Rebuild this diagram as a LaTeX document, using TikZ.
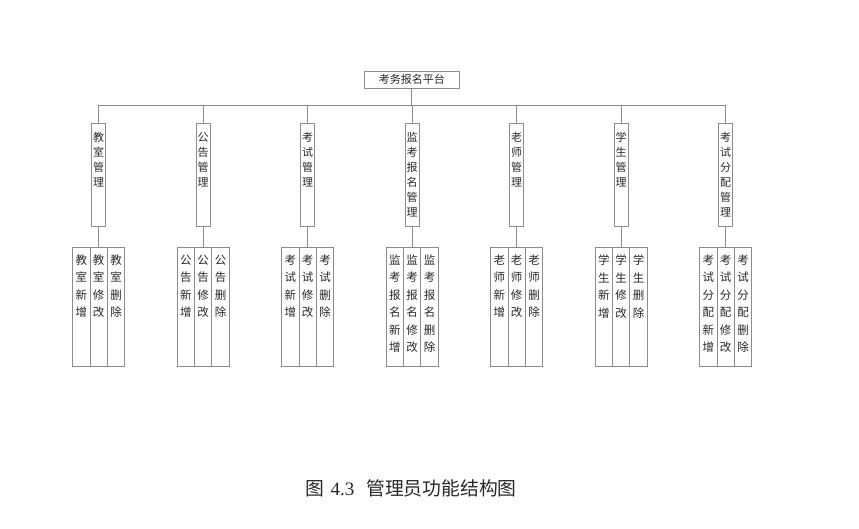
\documentclass[tikz,border=0pt]{standalone}
\usepackage{fontspec}
\setmainfont{Noto Sans CJK SC}
\newfontfamily\capserif{Liberation Serif}
\definecolor{linegray}{RGB}{140,140,140}
\definecolor{txt}{RGB}{40,40,40}
\begin{document}
\begin{tikzpicture}[x=1pt,y=-1pt,
  conn/.style={draw=linegray,line width=0.8pt},
  boxs/.style={draw=linegray,line width=0.8pt,inner sep=0pt,fill=white},
  midbox/.style={boxs,minimum width=14pt,minimum height=103.3pt,anchor=north},
  leafbox/.style={boxs,minimum width=17.3pt,minimum height=118.4pt,anchor=north},
  midtext/.style={font=\fontsize{11}{15}\selectfont,text=txt,align=center,anchor=north,inner sep=0pt},
  leaftext/.style={font=\fontsize{11.5}{17.5}\selectfont,text=txt,align=center,anchor=north,inner sep=0pt},
  roottext/.style={boxs,font=\fontsize{11}{13}\selectfont,text=txt,minimum width=95pt,minimum height=17.3pt}]
\path[use as bounding box] (0,0) rectangle (859,528);

\node[roottext] (root) at (411.8,79.7) {考务报名平台};

\foreach \i/\mid/\la/\lb/\lc in {
  0/{教\\室\\管\\理}/{教\\室\\新\\增}/{教\\室\\修\\改}/{教\\室\\删\\除},
  1/{公\\告\\管\\理}/{公\\告\\新\\增}/{公\\告\\修\\改}/{公\\告\\删\\除},
  2/{考\\试\\管\\理}/{考\\试\\新\\增}/{考\\试\\修\\改}/{考\\试\\删\\除},
  3/{监\\考\\报\\名\\管\\理}/{监\\考\\报\\名\\新\\增}/{监\\考\\报\\名\\修\\改}/{监\\考\\报\\名\\删\\除},
  4/{老\\师\\管\\理}/{老\\师\\新\\增}/{老\\师\\修\\改}/{老\\师\\删\\除},
  5/{学\\生\\管\\理}/{学\\生\\新\\增}/{学\\生\\修\\改}/{学\\生\\删\\除},
  6/{考\\试\\分\\配\\管\\理}/{考\\试\\分\\配\\新\\增}/{考\\试\\分\\配\\修\\改}/{考\\试\\分\\配\\删\\除}}{
  \pgfmathsetmacro{\cx}{98.7+104.5*\i}
  \coordinate (b\i) at (\cx,105);
  \node[midbox] (m\i) at (\cx,122.7) {};
  \node[midtext] (mt\i) at (\cx,132.2) {\mid};
  \node[leafbox] (la\i) at (\cx-17.3,247.3) {};
  \node[leafbox] (lb\i) at (\cx,247.3) {};
  \node[leafbox] (lc\i) at (\cx+17.3,247.3) {};
  \node[leaftext] (lat\i) at (\cx-17.3,254.6) {\la};
  \node[leaftext] (lbt\i) at (\cx,254.6) {\lb};
  \node[leaftext] (lct\i) at (\cx+17.3,254.6) {\lc};
  \draw[conn] (b\i) -- (m\i.north);
  \draw[conn] (m\i.south) -- (lb\i.north);
}
\draw[conn] (b0) -- (b6);
\draw[conn] (root.south) -- (root.south |- b0);

\node[anchor=west,inner sep=0pt,text=txt,font=\fontsize{18.8}{20}\selectfont] (cap) at (305.5,488)
  {图\hspace{6pt}{\capserif\fontsize{19}{20}\selectfont 4.3}\hspace{12pt}管理员功能结构图};
\end{tikzpicture}
\end{document}
